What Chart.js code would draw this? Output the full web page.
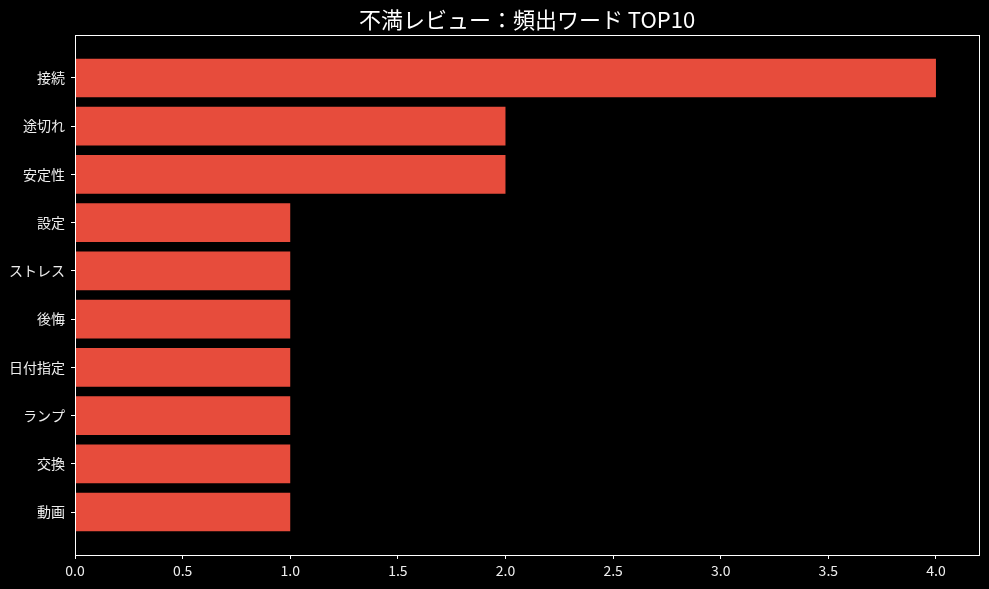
<!DOCTYPE html>
<html>
<head>
<meta charset="utf-8">
<script src="https://cdn.jsdelivr.net/npm/chart.js@4"></script>
<style>
  html, body { margin: 0; padding: 0; background: #000; }
  #wrap { width: 989px; height: 589px; }
</style>
</head>
<body>
<div id="wrap"><canvas id="chart" width="989" height="589"></canvas></div>
<script>
const categories = ["接続", "途切れ", "安定性", "設定", "ストレス", "後悔", "日付指定", "ランプ", "交換", "動画"];
const counts = [4, 2, 2, 1, 1, 1, 1, 1, 1, 1];
const xTicks = [0, 0.5, 1, 1.5, 2, 2.5, 3, 3.5, 4];
const title = "不満レビュー：頻出ワード TOP10";

const FONT = "'Noto Sans CJK JP', 'DejaVu Sans', sans-serif";

// black background, frame around plot, title centred on plot area
const deco = {
  id: "deco",
  beforeDraw(c) {
    const ctx = c.ctx;
    ctx.save();
    ctx.fillStyle = "#000";
    ctx.fillRect(0, 0, c.width, c.height);
    ctx.restore();
  },
  afterDraw(c) {
    const { left, right, top, bottom } = c.chartArea;
    const ctx = c.ctx;
    ctx.save();
    ctx.strokeStyle = "#fff";
    ctx.lineWidth = 1;
    ctx.strokeRect(left + 0.5, top + 0.5, right - left, bottom - top);
    ctx.fillStyle = "#fff";
    ctx.font = "22px " + FONT;
    ctx.textAlign = "center";
    ctx.textBaseline = "middle";
    ctx.fillText(title, (left + right) / 2, 20);
    ctx.restore();
  }
};

const ctx = document.getElementById("chart").getContext("2d");
new Chart(ctx, {
  type: "bar",
  data: {
    datasets: [{
      data: counts.map((v, i) => ({ x: v, y: i })),
      backgroundColor: "#e74c3c",
      categoryPercentage: 0.8,
      barPercentage: 1
    }]
  },
  options: {
    indexAxis: "y",
    responsive: false,
    animation: false,
    layout: { padding: { left: 0, top: 35, right: 10, bottom: 0 } },
    plugins: { legend: { display: false }, tooltip: { enabled: false } },
    scales: {
      x: {
        type: "linear",
        min: 0,
        max: 4.2,
        afterBuildTicks: s => { s.ticks = xTicks.map(v => ({ value: v })); },
        afterFit: s => { s.height = 34; },
        ticks: {
          color: "#eee",
          font: { family: FONT, size: 14 },
          padding: 3,
          maxRotation: 0,
          callback: v => Number(v).toFixed(1)
        },
        grid: { drawOnChartArea: false, drawTicks: true, tickLength: 4, color: "#fff" },
        border: { display: true, color: "#fff" }
      },
      y: {
        type: "linear",
        reverse: true,
        offset: false,
        min: -0.89,
        max: 9.89,
        afterBuildTicks: s => { s.ticks = categories.map((_, i) => ({ value: i })); },
        afterFit: s => { s.width = 75; },
        ticks: {
          color: "#eee",
          font: { family: FONT, size: 14 },
          padding: 6,
          callback: v => categories[v]
        },
        grid: { offset: false, drawOnChartArea: false, drawTicks: true, tickLength: 4, color: "#fff" },
        border: { display: true, color: "#fff" }
      }
    }
  },
  plugins: [deco]
});
</script>
</body>
</html>
